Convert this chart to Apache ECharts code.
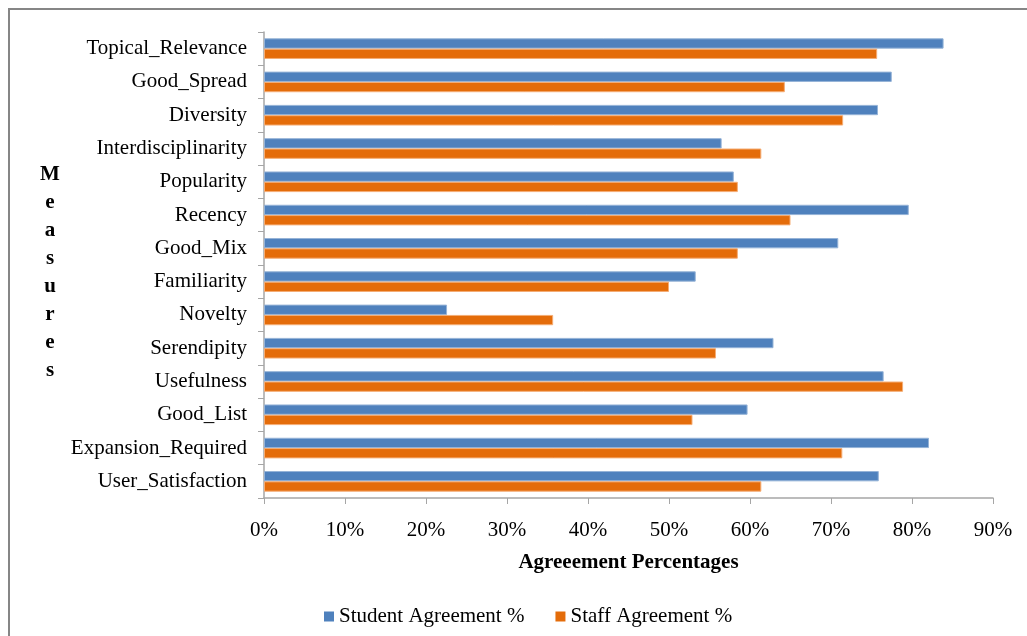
<!DOCTYPE html>
<html>
<head>
<meta charset="utf-8">
<script src="https://cdn.jsdelivr.net/npm/echarts@6/dist/echarts.min.js"></script>
<style>
  html, body { margin: 0; padding: 0; background: #fff; }
  #chart { width: 1027px; height: 636px; }
</style>
</head>
<body>
<div id="chart"></div>
<script>
const measures = [
  'Topical_Relevance', 'Good_Spread', 'Diversity', 'Interdisciplinarity',
  'Popularity', 'Recency', 'Good_Mix', 'Familiarity', 'Novelty',
  'Serendipity', 'Usefulness', 'Good_List', 'Expansion_Required', 'User_Satisfaction'
];
const studentAgreement = [83.9, 77.5, 75.8, 56.5, 58.0, 79.6, 70.9, 53.3, 22.6, 62.9, 76.5, 59.7, 82.1, 75.9];
const staffAgreement   = [75.7, 64.3, 71.5, 61.4, 58.5, 65.0, 58.5, 50.0, 35.7, 55.8, 78.9, 52.9, 71.4, 61.4];

const font = '"Liberation Serif", "Times New Roman", serif';
const fs = 21;

const chart = echarts.init(document.getElementById('chart'));

chart.setOption({
  animation: false,
  textStyle: { fontFamily: font, color: '#000' },
  grid: { left: 264, right: 34, top: 32, bottom: 138 },
  graphic: [
    {
      // outer frame, right and bottom edges fall outside the picture
      type: 'rect',
      shape: { x: 9, y: 9, width: 1100, height: 1000 },
      style: { fill: 'none', stroke: '#868686', lineWidth: 2 },
      silent: true
    },
    {
      type: 'text',
      x: 50,
      y: 273,
      style: {
        text: 'M\ne\na\ns\nu\nr\ne\ns',
        font: 'bold ' + fs + 'px ' + font,
        lineHeight: 28,
        align: 'center',
        verticalAlign: 'middle',
        fill: '#000'
      }
    }
  ],
  legend: {
    top: 601,
    left: 319,
    icon: 'rect',
    itemWidth: 10,
    itemHeight: 10,
    itemGap: 31,
    itemStyle: { borderWidth: 0 },
    textStyle: { fontFamily: font, fontSize: fs, color: '#000' },
    data: ['Student Agreement %', 'Staff Agreement %']
  },
  xAxis: {
    type: 'value',
    min: 0,
    max: 90,
    interval: 10,
    name: 'Agreeement Percentages',
    nameLocation: 'middle',
    nameGap: 54,
    nameTextStyle: { fontFamily: font, fontSize: fs, fontWeight: 'bold', color: '#000' },
    axisLine: { show: true, lineStyle: { color: '#A6A6A6', width: 1.5 } },
    axisTick: { show: true, length: 6, lineStyle: { color: '#A6A6A6' } },
    axisLabel: { formatter: '{value}%', fontSize: fs, color: '#000', margin: 22 },
    splitLine: { show: false }
  },
  yAxis: {
    type: 'category',
    inverse: true,
    data: measures,
    axisLine: { show: true, lineStyle: { color: '#A6A6A6', width: 1.5 } },
    axisTick: { show: true, length: 6, lineStyle: { color: '#A6A6A6' } },
    axisLabel: { fontSize: fs, color: '#000', margin: 17, padding: [4, 0, 0, 0] }
  },
  series: [
    {
      name: 'Student Agreement %',
      type: 'bar',
      data: studentAgreement,
      barCategoryGap: '38%',
      barGap: '0%',
      itemStyle: { color: '#4F81BD', borderColor: '#95B3D7', borderWidth: 1 }
    },
    {
      name: 'Staff Agreement %',
      type: 'bar',
      data: staffAgreement,
      barCategoryGap: '38%',
      barGap: '0%',
      itemStyle: { color: '#E46C0A', borderColor: '#F5AD75', borderWidth: 1 }
    }
  ]
});
</script>
</body>
</html>
